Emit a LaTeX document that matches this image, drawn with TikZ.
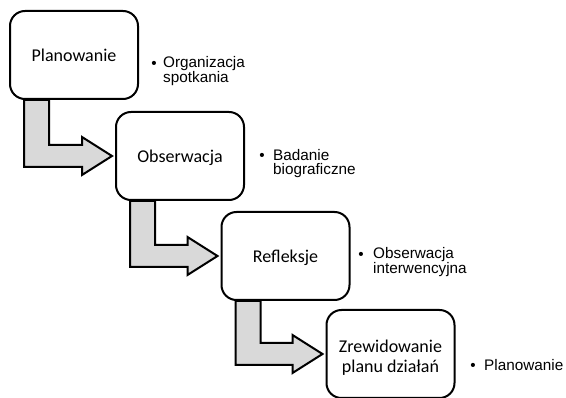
\documentclass[tikz,border=0pt]{standalone}
\usepackage{fontspec}
\setmainfont{Liberation Sans}
\newfontfamily\boxfont{Carlito}
\usetikzlibrary{calc}
\definecolor{arrowgray}{HTML}{D9D9D9}
\tikzset{
  stepbox/.style={draw=black, line width=2pt, rounded corners=15pt, fill=white,
    minimum width=128pt, minimum height=88pt, inner sep=0pt, align=center,
    text height=12.4pt, text depth=0pt,
    font=\boxfont\fontsize{18}{20}\selectfont},
  bullettext/.style={inner sep=0pt, align=left, anchor=base west,
    font=\fontsize{15.3}{14}\selectfont},
  bulletdot/.style={inner sep=0pt, anchor=base, font=\fontsize{15.3}{14}\selectfont},
  bentarrow/.style={draw=black, line width=2pt, fill=arrowgray, line join=miter}
}
\newcommand\drawbentarrow[2]{%
  \draw[bentarrow] let \p1=(#1.south west), \p2=(#2.west) in
    (\x1+15pt,\y1) -- (\x1+15pt,\y2-11pt) -- (\x2-33pt,\y2-11pt) --
    (\x2-33pt,\y2-19pt) -- (\x2-3pt,\y2) -- (\x2-33pt,\y2+19pt) --
    (\x2-33pt,\y2+11pt) -- (\x1+40pt,\y2+11pt) -- (\x1+40pt,\y1) -- cycle;}
\begin{document}
\begin{tikzpicture}[x=1pt,y=-1pt]
\useasboundingbox (0,0) rectangle (566,398);
\fill[white] (0,0) rectangle (566,398);
\node[stepbox] (b1) at (74,55) {Planowanie};
\node[stepbox] (b2) at (180,156) {Obserwacja};
\node[stepbox] (b3) at (285.5,256) {Refleksje};
\node[stepbox, text height=38pt] (b4) at (390.5,354) {Zrewidowanie\\planu działań};
\drawbentarrow{b1}{b2}
\drawbentarrow{b2}{b3}
\drawbentarrow{b3}{b4}
\node[bulletdot] (d1) at (154,69) {\textbullet};
\node[bullettext] (t1) at (163,83) {Organizacja\\spotkania};
\node[bulletdot] (d2) at (262,161) {\textbullet};
\node[bullettext] (t2) at (273,175) {Badanie\\biograficzne};
\node[bulletdot] (d3) at (361,260) {\textbullet};
\node[bullettext] (t3) at (373,274) {Obserwacja\\interwencyjna};
\node[bulletdot] (d4) at (473,371) {\textbullet};
\node[bullettext] (t4) at (484,371) {Planowanie};
\end{tikzpicture}
\end{document}
